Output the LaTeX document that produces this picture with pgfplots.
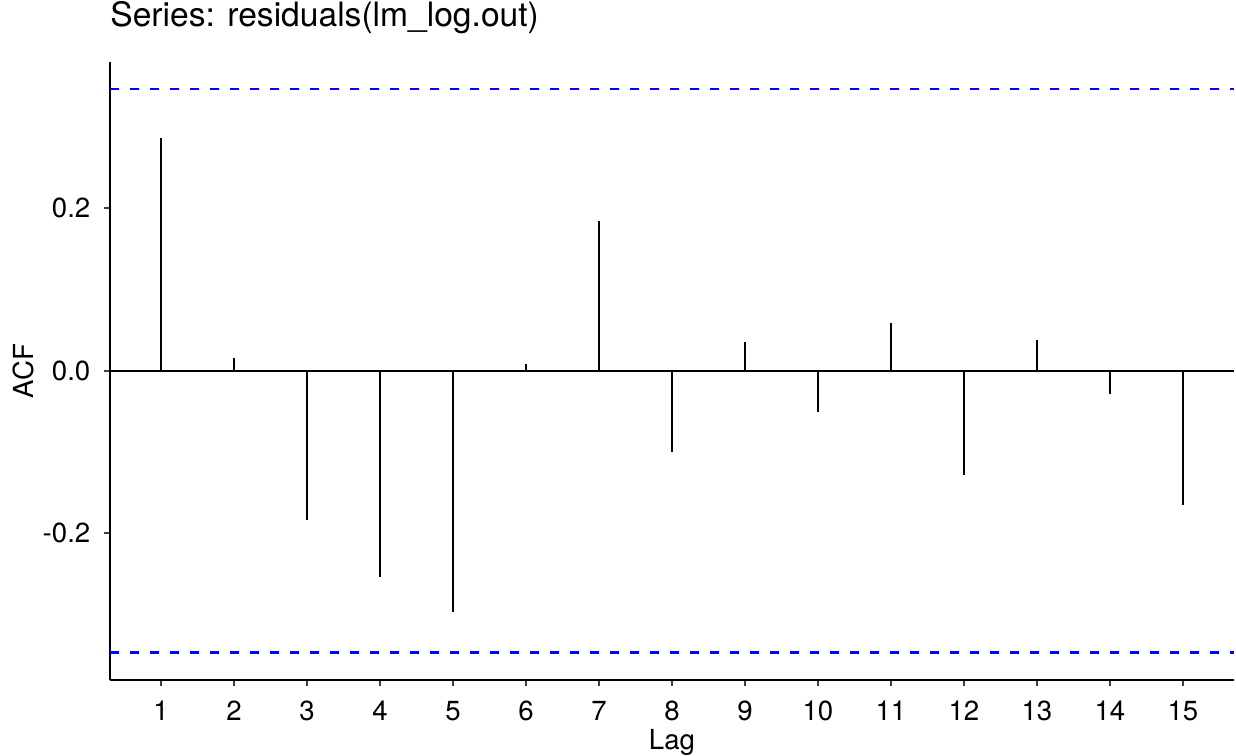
\documentclass[border=0pt]{standalone}
\usepackage{pgfplots}
\pgfplotsset{compat=1.18}
\usepackage{fontspec}
\setmainfont{TeX Gyre Heros}
\definecolor{ciblue}{RGB}{0,0,255}
\begin{document}
\begin{tikzpicture}
\path[use as bounding box] (-55bp,-37.5bp) rectangle (563bp,340.05bp);
\begin{axis}[
  at={(0,0)}, anchor=south west,
  scale only axis,
  width=562bp, height=309.2bp,
  xmin=0.3, xmax=15.7,
  ymin=-0.381, ymax=0.3805,
  axis x line=bottom, axis y line=left,
  axis line style={-, line width=1.1bp, black},
  xtick={1,...,15},
  ytick={-0.2,0,0.2},
  yticklabels={-0.2,0.0,0.2},
  tick align=outside,
  major tick length=3bp,
  tick style={line width=1bp, black!75},
  ticklabel style={font=\fontsize{13.8bp}{16bp}\selectfont},
  xticklabel style={/pgf/number format/assume math mode=true, anchor=base, inner sep=0pt, yshift=-17bp},
  yticklabel style={anchor=east, inner sep=0pt, xshift=-6.65bp},
  xlabel={Lag}, ylabel={ACF},
  label style={font=\fontsize{13.8bp}{16bp}\selectfont},
  xlabel style={at={(axis description cs:0.5,-0.1122)}, anchor=base, inner sep=0pt},
  ylabel style={at={(axis description cs:-0.0771,0.5)}, anchor=center, inner sep=0pt},
  title={Series: residuals(lm\_log.out)},
  title style={at={(axis description cs:0,1.0378)}, anchor=base west, inner sep=0pt, font=\fontsize{16.8bp}{19bp}\selectfont},
  clip=false,
]
\addplot[ycomb, black, line width=1.25bp, no markers] coordinates {
 (1,0.287) (2,0.016) (3,-0.184) (4,-0.254) (5,-0.297) (6,0.008) (7,0.184)
 (8,-0.100) (9,0.035) (10,-0.051) (11,0.059) (12,-0.128) (13,0.038)
 (14,-0.029) (15,-0.165)
};
\addplot[black, line width=1.1bp, no markers] coordinates {(0.3,0) (15.7,0)};
\addplot[ciblue, line width=1.25bp, dash pattern=on 4.3bp off 5.7bp, no markers] coordinates {(0.3,0.347) (15.7,0.347)};
\addplot[ciblue, line width=1.25bp, dash pattern=on 4.3bp off 5.7bp, no markers] coordinates {(0.3,-0.347) (15.7,-0.347)};
\end{axis}
\end{tikzpicture}
\end{document}
